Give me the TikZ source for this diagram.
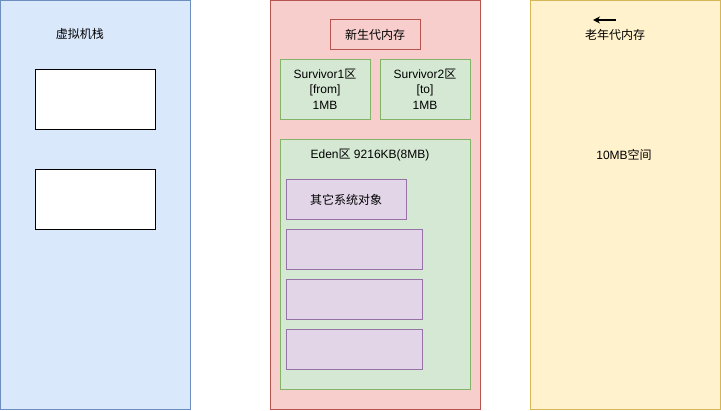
\documentclass[tikz,border=0pt]{standalone}
\usepackage{fontspec}
\setmainfont{Liberation Sans}
\newfontfamily\cjk{Noto Sans CJK SC}
\usetikzlibrary{arrows.meta}
\definecolor{stackfill}{HTML}{DAE8FC}
\definecolor{stackline}{HTML}{6C8EBF}
\definecolor{youngfill}{HTML}{F8CECC}
\definecolor{youngline}{HTML}{B85450}
\definecolor{edenfill}{HTML}{D5E8D4}
\definecolor{edenline}{HTML}{82B366}
\definecolor{objfill}{HTML}{E1D5E7}
\definecolor{objline}{HTML}{9673A6}
\definecolor{oldfill}{HTML}{FFF2CC}
\definecolor{oldline}{HTML}{D6B656}
\tikzset{
  region/.style={draw, line width=1pt},
  stackarea/.style={region, fill=stackfill, draw=stackline},
  youngarea/.style={region, fill=youngfill, draw=youngline},
  survarea/.style={region, fill=edenfill, draw=edenline},
  objarea/.style={region, fill=objfill, draw=objline},
  oldarea/.style={region, fill=oldfill, draw=oldline},
  framebox/.style={region, fill=white, draw=black},
  lbl/.style={font=\fontsize{12}{14}\selectfont, text=black, inner sep=0pt, align=center},
}
\begin{document}
\begin{tikzpicture}[x=1pt,y=-1pt]
\useasboundingbox (0,0) rectangle (721,411);
% virtual machine stack
\draw[stackarea] (0.5,0.5) rectangle (190,410);
\node[lbl] (stacklbl) at (80,34) {\cjk 虚拟机栈};
\draw[framebox] (35,70) rectangle (155,130);
\draw[framebox] (35,170) rectangle (155,230);
% young generation
\draw[youngarea] (270,0.5) rectangle (480,410);
\draw[youngarea] (330,20) rectangle (420,50);
\node[lbl] (younglbl) at (375,35) {\cjk 新生代内存};
\draw[survarea] (280,60) rectangle (370,120);
\node[lbl, font=\fontsize{12}{15.5}\selectfont] (s1) at (325,89) {Survivor1{\cjk 区}\\{[}from{]}\\1MB};
\draw[survarea] (380,60) rectangle (470,120);
\node[lbl, font=\fontsize{12}{15.5}\selectfont] (s2) at (425,89) {Survivor2{\cjk 区}\\{[}to{]}\\1MB};
\draw[survarea] (280,140) rectangle (470,390);
\node[lbl] (edenlbl) at (370,155) {Eden{\cjk 区} 9216KB(8MB)};
\draw[objarea] (286,180) rectangle (406,220);
\node[lbl] (sysobj) at (346,200) {\cjk 其它系统对象};
\draw[objarea] (286,230) rectangle (422,270);
\draw[objarea] (286,280) rectangle (422,320);
\draw[objarea] (286,330) rectangle (422,370);
% old generation
\draw[oldarea] (530,0.5) rectangle (720,410);
\node[lbl] (oldlbl) at (615,35) {\cjk 老年代内存};
\coordinate (arrowstart) at (616,20);
\coordinate (arrowend) at (593,20);
\draw[line width=1.2pt, -{Stealth[length=7pt,width=7pt]}] (arrowstart) -- (arrowend);
\node[lbl] (oldsize) at (624,155) {10MB{\cjk 空间}};
\end{tikzpicture}
\end{document}
